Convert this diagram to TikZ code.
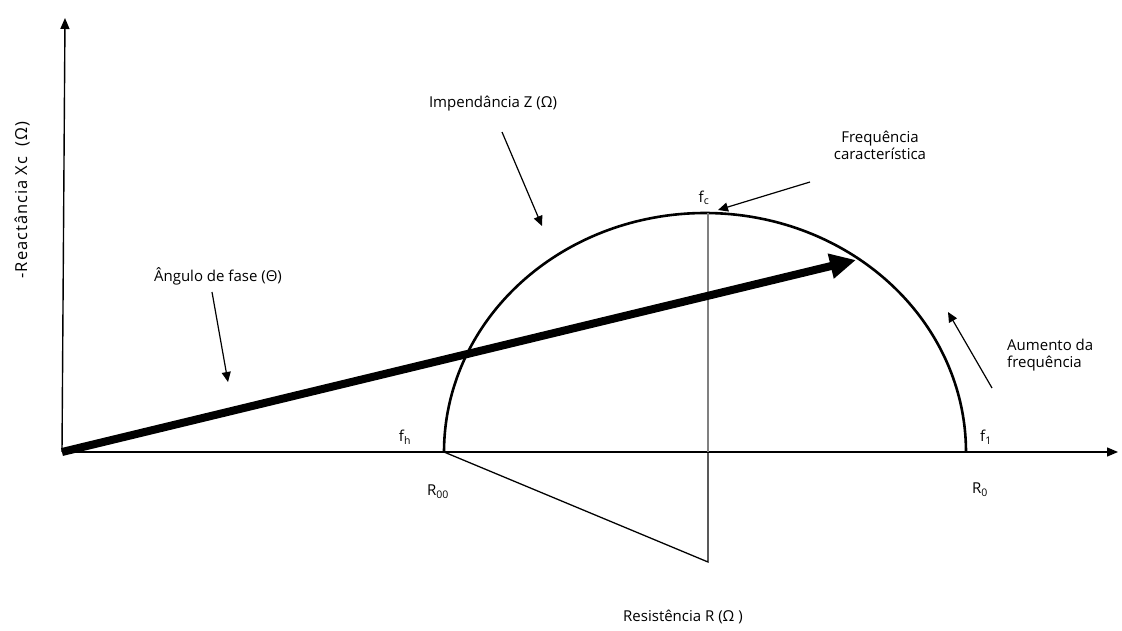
\documentclass[tikz,border=0pt]{standalone}
\usepackage{fontspec}
\setmainfont{Open Sans}
\newfontfamily\widefont[LetterSpace=6]{Open Sans}
\usetikzlibrary{arrows.meta}
\begin{document}
\begin{tikzpicture}[x=1pt,y=-1pt,
  lbl/.style={font=\fontsize{15}{17}\selectfont, inner sep=1pt},
  axis/.style={line width=1.4pt, -{Triangle[length=11pt,width=9pt]}},
  pointer/.style={line width=1.2pt, -{Triangle[length=10pt,width=9pt]}},
  bigarrow/.style={line width=8pt, -{Triangle[length=26pt,width=24pt]}},
  curve/.style={line width=2.6pt},
  guide/.style={line width=1.3pt}]
\useasboundingbox (0,0) rectangle (1122,631);
% axes
\coordinate (O) at (62,452);
\coordinate (ytop) at (65,18);
\coordinate (xend) at (1118,452);
\draw[axis] (O) -- (ytop);
\draw[axis] (O) -- (xend);
% semicircle
\coordinate (Rinf) at (444,452);
\coordinate (Rzero) at (966,452);
\coordinate (top) at (708,213);
\coordinate (mid) at (708,452);
\coordinate (apex) at (708,562);
\draw[curve] plot[smooth, samples=120, domain=180:0] ({705+261*cos(\x)},{452-239*sin(\x)});
% guide lines
\draw[guide, gray] (top) -- (mid);
\draw[guide] (mid) -- (apex) -- (Rinf);
% thick impedance arrow
\coordinate (ztip) at (856,260);
\draw[bigarrow] (O) -- (ztip);
% labels
\node[lbl, rotate=90, font=\widefont\fontsize{16.5}{18}\selectfont] (ylab) at (22,200) {-Reactância Xc\ \ (Ω)};
\node[lbl] (imp) at (493,104) {Impendância Z (Ω)};
\node[lbl, align=center] (freqc) at (880,145) {Frequência\\característica};
\node[lbl] (fc) at (704,198) {f\textsubscript{c}};
\node[lbl] (ang) at (218,276) {Ângulo de fase (Θ)};
\node[lbl, align=left, anchor=west] (aum) at (1006,355) {Aumento da\\frequência};
\node[lbl] (fh) at (405,437) {f\textsubscript{h}};
\node[lbl] (f1) at (986,437) {f\textsubscript{1}};
\node[lbl] (R00) at (438,492) {R\textsubscript{00}};
\node[lbl] (R0) at (980,490) {R\textsubscript{0}};
\node[lbl] (res) at (683,617) {Resistência R (Ω )};
% pointers
\coordinate (impS) at (502,132);
\coordinate (impE) at (542,226);
\draw[pointer] (impS) -- (impE);
\coordinate (fcS) at (810,182);
\coordinate (fcE) at (718,210);
\draw[pointer] (fcS) -- (fcE);
\coordinate (angS) at (212,292);
\coordinate (angE) at (228,382);
\draw[pointer] (angS) -- (angE);
\coordinate (aumS) at (992,388);
\coordinate (aumE) at (948,312);
\draw[pointer] (aumS) -- (aumE);
\end{tikzpicture}
\end{document}
